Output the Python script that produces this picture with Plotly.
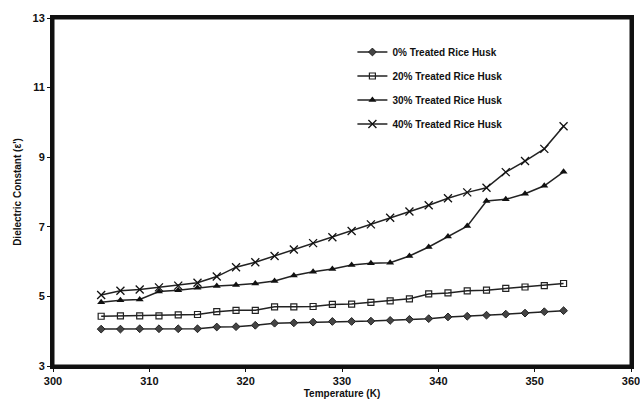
import plotly.graph_objects as go

temperature = [305, 307, 309, 311, 313, 315, 317, 319, 321, 323, 325, 327, 329,
               331, 333, 335, 337, 339, 341, 343, 345, 347, 349, 351, 353]

husk_0 = [4.06, 4.06, 4.07, 4.07, 4.07, 4.07, 4.12, 4.13, 4.17, 4.23, 4.24, 4.26, 4.28,
          4.28, 4.29, 4.31, 4.34, 4.36, 4.41, 4.43, 4.46, 4.49, 4.52, 4.56, 4.59]
husk_20 = [4.43, 4.44, 4.44, 4.44, 4.47, 4.48, 4.56, 4.60, 4.60, 4.70, 4.70, 4.71, 4.77,
           4.78, 4.83, 4.87, 4.93, 5.07, 5.10, 5.16, 5.18, 5.23, 5.27, 5.31, 5.37]
husk_30 = [4.83, 4.89, 4.91, 5.14, 5.18, 5.25, 5.30, 5.33, 5.37, 5.44, 5.60, 5.71, 5.79,
           5.90, 5.95, 5.97, 6.16, 6.42, 6.72, 7.02, 7.74, 7.79, 7.95, 8.18, 8.58]
husk_40 = [5.04, 5.16, 5.20, 5.26, 5.31, 5.39, 5.57, 5.84, 5.98, 6.16, 6.35, 6.53, 6.70,
           6.88, 7.07, 7.26, 7.44, 7.62, 7.82, 7.99, 8.12, 8.57, 8.89, 9.24, 9.89]

series_names = ["0% Treated Rice Husk", "20% Treated Rice Husk",
                "30% Treated Rice Husk", "40% Treated Rice Husk"]

x_ticks = [300, 310, 320, 330, 340, 350, 360]
y_ticks = [3, 5, 7, 9, 11, 13]

FONT = "Liberation Sans, Arial, sans-serif"
LINE = "#222222"

styles = [
    dict(symbol="diamond", size=6, color="#444444", line=dict(color="#222222", width=1)),
    dict(symbol="square-open", size=6, color="#222222", line=dict(width=1.2)),
    dict(symbol="triangle-up", size=7, color="#111111"),
    dict(symbol="x-thin-open", size=8, color="#111111", line=dict(color="#111111", width=1.3)),
]

fig = go.Figure()
for i, (name, vals) in enumerate(zip(series_names, [husk_0, husk_20, husk_30, husk_40])):
    fig.add_trace(go.Scatter(
        x=temperature, y=vals, name=name, mode="lines+markers",
        line=dict(color=LINE, width=1.5),
        marker=styles[i],
        legendgroup=f"g{i}",
    ))

fig.update_layout(
    width=640, height=409,
    margin=dict(l=53, r=9, t=18, b=43, autoexpand=False),
    paper_bgcolor="white", plot_bgcolor="white",
    font=dict(family=FONT, color="#111111"),
    showlegend=True,
    legend=dict(
        x=0.518, y=0.944, xanchor="left", yanchor="top",
        bgcolor="rgba(0,0,0,0)",
        font=dict(family=FONT, size=10, color="#111111", weight="bold"),
        itemwidth=30, tracegroupgap=5,
    ),
    shapes=[dict(type="rect", xref="paper", yref="paper", x0=0, y0=0, x1=1, y1=1,
                 line=dict(color="#111111", width=3), fillcolor="rgba(0,0,0,0)",
                 layer="above")],
)

fig.update_xaxes(
    range=[300, 360], tickvals=x_ticks, automargin=False,
    ticklabeloverflow="allow",
    ticks="outside", ticklen=3, tickcolor="#111111",
    showgrid=False, zeroline=False,
    showline=True, linecolor="#111111", linewidth=3, mirror=True,
    tickfont=dict(family=FONT, size=11, color="#111111", weight="bold"),
    title=dict(text="Temperature (K)", standoff=4,
               font=dict(family=FONT, size=10, color="#111111", weight="bold")),
)
fig.update_yaxes(
    range=[3, 13], tickvals=y_ticks, automargin=False,
    ticks="outside", ticklen=3, tickcolor="#111111",
    showgrid=False, zeroline=False,
    showline=True, linecolor="#111111", linewidth=3, mirror=True,
    tickfont=dict(family=FONT, size=11, color="#111111", weight="bold"),
    title=dict(text="Dielectric Constant (ε')", standoff=10,
               font=dict(family=FONT, size=10, color="#111111", weight="bold")),
)

fig.write_html("out.html", config={"displayModeBar": False})

with open("out.html", "r", encoding="utf-8") as f:
    html = f.read()
html = html.replace("<head>", "<head><style>html,body{margin:0;padding:0;}</style>", 1)
with open("out.html", "w", encoding="utf-8") as f:
    f.write(html)
